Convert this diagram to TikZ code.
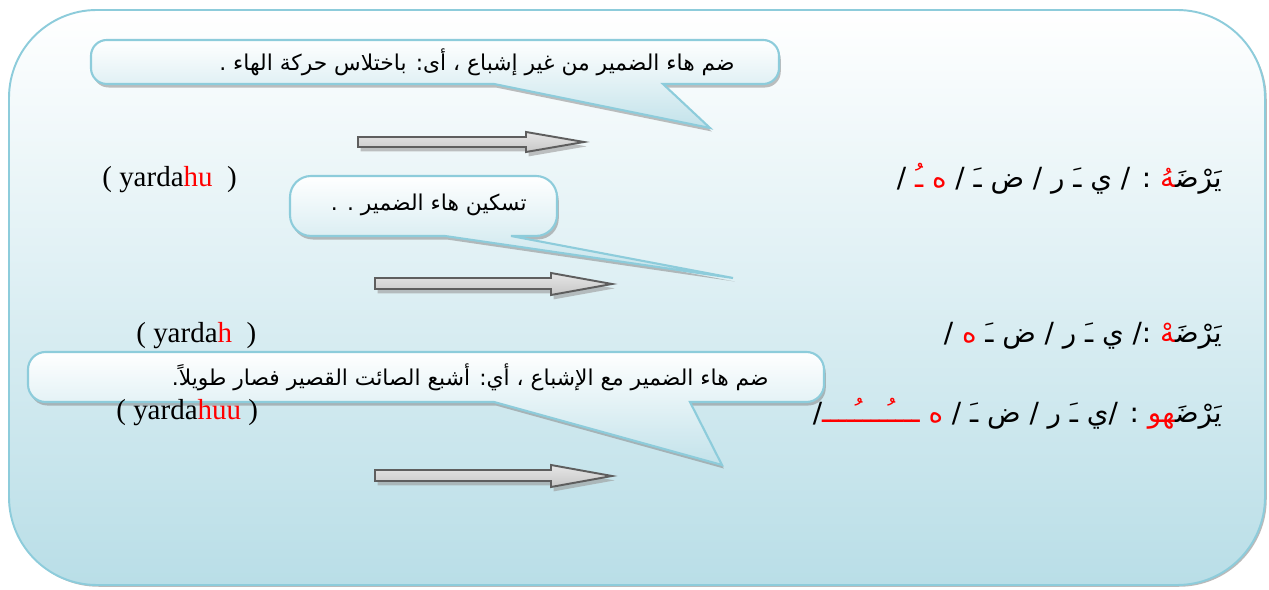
\documentclass[tikz,border=0pt]{standalone}
\usepackage{fontspec}
\setmainfont{Liberation Serif}
\newfontfamily\arabicfont[Script=Arabic]{DejaVu Sans}
\newfontfamily\arabicred[Script=Arabic,Color=FF0000]{DejaVu Sans}
\TeXXeTstate=1
\usetikzlibrary{shadows}
\definecolor{frameblue}{HTML}{8DCCDB}
\definecolor{pageblue}{HTML}{B9DEE7}
\definecolor{tailblue}{HTML}{C2E2EA}
\definecolor{arrowgrey}{HTML}{5E5E5E}
\newcommand{\zwj}{^^^^200d}

\begin{document}
\begin{tikzpicture}[x=0.02cm,y=-0.02cm,
	frame/.style={draw=frameblue,line width=1.1pt,top color=white,bottom color=pageblue,
		drop shadow={shadow xshift=1pt,shadow yshift=-1pt,fill=black!45,opacity=.6}},
	bubble/.style={draw=frameblue,line width=1.2pt,top color=white,bottom color=tailblue,
		drop shadow={shadow xshift=1pt,shadow yshift=-2pt,fill=black!50,opacity=.5}},
	blockarrow/.style={draw=arrowgrey,line width=1.1pt,top color=black!10,middle color=white,bottom color=black!22,
		drop shadow={shadow xshift=1.5pt,shadow yshift=-2.5pt,fill=black!40,opacity=.6}},
	arab/.style={font=\arabicfont\fontsize{12.4}{15}\selectfont,inner sep=0pt},
	form/.style={font=\arabicfont\fontsize{15.8}{18}\selectfont,inner sep=0pt},
	latin/.style={font=\fontsize{16.5}{18}\selectfont,inner sep=0pt}]
\useasboundingbox (0,0) rectangle (1269,590);
\fill[white] (0,0) rectangle (1269,590);

% background panel
\path[frame,rounded corners=50pt] (9,10) rectangle (1265,585);

% callouts
\path[bubble] (710,128) -- (494,84) [rounded corners=9pt] -- (91,84) -- (91,40) -- (779,40) -- (779,84)
	[sharp corners] -- (663,84) -- cycle;
\path[bubble] (733,278) -- (445,236) [rounded corners=12pt] -- (290,236) -- (290,176) -- (557,176) -- (557,236)
	[sharp corners] -- (511,236) -- cycle;
\path[bubble] (722,465) -- (494,402) [rounded corners=10pt] -- (28,402) -- (28,352) -- (824,352) -- (824,402)
	[sharp corners] -- (690,402) -- cycle;

\node[arab,anchor=east] (note1) at (735,62) {\beginR ضم هاء الضمير من غير إشباع ، أى: باختلاس حركة الهاء .\endR};
\node[arab,anchor=east] (note2) at (527,205) {\beginR تسكين هاء الضمير . .\endR};
\node[arab,anchor=east] (note3) at (769,377) {\beginR ضم هاء الضمير مع الإشباع ، أي: أشبع الصائت القصير فصار طويلاً.\endR};

% arrows
\path[blockarrow] (358,137) -- (526,137) -- (526,132) -- (584,142) -- (526,152) -- (526,147) -- (358,147) -- cycle;
\path[blockarrow] (375,278) -- (551,278) -- (551,273) -- (612,284) -- (551,295) -- (551,289) -- (375,289) -- cycle;
\path[blockarrow] (375,470) -- (551,470) -- (551,465) -- (612,476) -- (551,487) -- (551,481) -- (375,481) -- cycle;

% forms
\node[form,anchor=east] (form1) at (1222,179) {\beginR يَرْضَ\zwj{\arabicred\zwj هُ} : / ي ـَ ر / ض ـَ / {\arabicred ه ـُ} /\endR};
\node[form,anchor=east] (form2) at (1222,336) {\beginR يَرْضَ\zwj{\arabicred\zwj هْ} :/ ي ـَ ر / ض ـَ {\arabicred ه} /\endR};
\node[form,anchor=east] (form3) at (1222,414) {\beginR يَرْضَ\zwj{\arabicred\zwj هو} : /ي ـَ ر / ض ـَ / {\arabicred ه ــــُــــُــــ}/\endR};

\node[latin,anchor=west] (trans1) at (102,180) {( yarda\textcolor{red}{hu}\ \ )};
\node[latin,anchor=west] (trans2) at (136,336) {( yarda\textcolor{red}{h}\ \ )};
\node[latin,anchor=west] (trans3) at (116,413) {( yarda\textcolor{red}{huu} )};
\end{tikzpicture}
\end{document}
